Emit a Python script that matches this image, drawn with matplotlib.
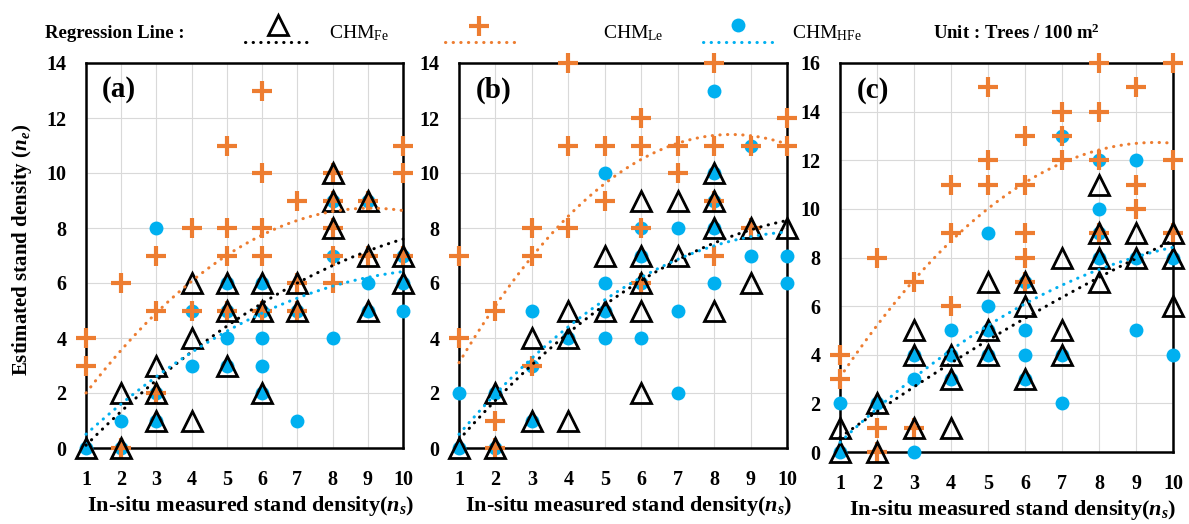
import matplotlib.pyplot as plt
import numpy as np

plt.rcParams['font.family'] = 'Liberation Serif'
plt.rcParams['mathtext.fontset'] = 'custom'
plt.rcParams['mathtext.it'] = 'Liberation Serif:italic:bold'
plt.rcParams['mathtext.rm'] = 'Liberation Serif'
plt.rcParams['mathtext.bf'] = 'Liberation Serif:bold'

ns = list(range(1, 11))

# estimated density at each in-situ value 1..10, per panel and per CHM
a_fe = [[0], [2, 0], [3, 2, 1], [6, 4, 1], [6, 5, 3], [6, 5, 2], [6, 5], [10, 9, 8], [9, 7, 5], [7, 6]]
a_le = [[4, 3], [6, 0], [7, 5, 2], [8, 5], [11, 8, 7, 5], [13, 10, 8, 7, 5], [9, 6, 5], [10, 9, 8, 7, 6], [9, 7], [11, 10, 7]]
a_hfe = [[0], [1, 0], [8, 2, 1], [5, 3], [6, 5, 4, 3], [6, 5, 4, 3, 2], [5, 1], [9, 7, 4], [9, 6, 5], [7, 6, 5]]

b_fe = [[0], [2, 0], [4, 1], [5, 4, 1], [7, 5], [9, 7, 6, 5, 2], [9, 7], [10, 9, 8, 5], [8, 6], [8]]
b_le = [[7, 4], [5, 1, 0], [8, 7, 3], [14, 11, 8], [11, 9], [12, 11, 8, 6], [11, 10], [14, 11, 9, 7], [11, 8], [12, 11]]
b_hfe = [[2, 0], [2, 0], [5, 3, 1], [4], [10, 6, 5, 4], [8, 7, 6, 4], [8, 5, 2], [13, 10, 9, 8, 6], [11, 7], [7, 6]]

c_fe = [[1, 0], [2, 0], [5, 4, 1], [4, 3, 1], [7, 5, 4], [7, 6, 3], [8, 5, 4], [11, 9, 8, 7], [9, 8], [9, 8, 6]]
c_le = [[4, 3], [8, 1, 0], [7, 1], [11, 9, 6], [15, 12, 11], [13, 11, 9, 8, 7], [14, 13, 12], [16, 14, 12, 9], [15, 11, 10], [16, 12, 9]]
c_hfe = [[2, 0], [2], [4, 3, 0], [5, 4, 3], [9, 6, 5, 4], [7, 5, 4, 3], [13, 4, 2], [12, 10, 9, 8], [12, 8, 5], [8, 4]]

# quadratic trend lines (c2, c1, c0)
a_fit = {'fe': [-0.050, 1.383, -1.233], 'le': [-0.103, 1.870, 0.233], 'hfe': [-0.056, 1.273, -0.717]}
b_fit = {'fe': [-0.068, 1.634, -1.267], 'le': [-0.149, 2.522, 0.728], 'hfe': [-0.081, 1.708, -1.128]}
c_fit = {'fe': [-0.020, 1.120, -0.500], 'le': [-0.133, 2.533, 0.671], 'hfe': [-0.062, 1.573, -1.111]}

panel_names = ['(a)', '(b)', '(c)']
y_tops = [14, 14, 16]

BLUE = '#00B0F0'
ORANGE = '#ED7D31'
DOT = (0, (0.1, 2.4))


def flat(cols):
    xs = [x for x, c in zip(ns, cols) for _ in c]
    ys = [y for c in cols for y in c]
    return xs, ys


W, H = 1189, 524
fig = plt.figure(figsize=(W / 100, H / 100), dpi=100)

# overlay in pixel coordinates for legend header and labels
ov = fig.add_axes([0, 0, 1, 1])
ov.set_xlim(0, W)
ov.set_ylim(H, 0)
ov.axis('off')

boxes = [(86, 403, 63, 448), (459, 787, 63, 448), (840, 1173, 63, 452)]
data = [(a_fe, a_le, a_hfe, a_fit), (b_fe, b_le, b_hfe, b_fit), (c_fe, c_le, c_hfe, c_fit)]

xx = np.linspace(1, 10, 200)
for i, ((l, r, t, b), (fe, le, hfe, fit)) in enumerate(zip(boxes, data)):
    ax = fig.add_axes([l / W, 1 - b / H, (r - l) / W, (b - t) / H])
    ax.set_xlim(1, 10)
    ax.set_ylim(0, y_tops[i])
    ax.set_xticks(ns)
    ax.set_yticks(range(0, y_tops[i] + 1, 2))
    ax.grid(True, color='#d9d9d9', lw=0.8)
    ax.set_axisbelow(True)
    for s in ax.spines.values():
        s.set_linewidth(1.8)
    ax.tick_params(length=0, labelsize=14.5)
    ax.tick_params(axis='y', pad=14)
    ax.tick_params(axis='x', pad=16)
    for lab in ax.get_xticklabels() + ax.get_yticklabels():
        lab.set_fontweight('bold')

    x, y = flat(hfe)
    ax.plot(x, y, 'o', color=BLUE, ms=10, mew=0, clip_on=False, zorder=3)
    x, y = flat(le)
    ax.plot(x, y, '+', color=ORANGE, ms=14, mew=3, clip_on=False, zorder=4)
    x, y = flat(fe)
    ax.plot(x, y, '^', mfc='none', mec='black', ms=14.5, mew=2, clip_on=False, zorder=5)

    ax.plot(xx, np.polyval(fit['le'], xx), color=ORANGE, ls=DOT, lw=2.2,
            dash_capstyle='round', zorder=6, clip_on=False)
    ax.plot(xx, np.polyval(fit['fe'], xx), color='black', ls=DOT, lw=2.2,
            dash_capstyle='round', zorder=6, clip_on=False)
    ax.plot(xx, np.polyval(fit['hfe'], xx), color=BLUE, ls=DOT, lw=2.2,
            dash_capstyle='round', zorder=6, clip_on=False)

    ax.text(0.05, 0.93, panel_names[i], transform=ax.transAxes, fontsize=21,
            fontweight='bold', va='center', ha='left')
    ov.text((l + r) / 2 + 6, 506 + (b - 448), r'In-situ measured stand density($n_s$)',
            fontsize=16, fontweight='bold', ha='center', va='center')

ov.text(22, 250, r'Estimated stand density ($n_e$)', rotation=90, fontsize=15,
        fontweight='bold', ha='center', va='center')

# legend header
ov.text(45, 33, 'Regression Line :', fontsize=13.5, fontweight='bold', va='center')
ov.plot([245, 312], [42, 42], color='black', ls=DOT, lw=2.2, dash_capstyle='round')
ov.plot([278], [25], '^', mfc='none', mec='black', ms=14.5, mew=2)
ov.text(329, 33, r'CHM$_{\mathregular{Fe}}$', fontsize=14, va='center')
ov.plot([445, 515], [42, 42], color=ORANGE, ls=DOT, lw=2.2, dash_capstyle='round')
ov.plot([479], [26], '+', color=ORANGE, ms=14, mew=3)
ov.text(603, 33, r'CHM$_{\mathregular{Le}}$', fontsize=14, va='center')
ov.plot([703, 772], [42, 42], color=BLUE, ls=DOT, lw=2.2, dash_capstyle='round')
ov.plot([738], [25], 'o', color=BLUE, ms=10, mew=0)
ov.text(792, 33, r'CHM$_{\mathregular{HFe}}$', fontsize=14, va='center')
ov.text(933, 33, r'Unit : Trees / 100 m$^{\mathregular{2}}$', fontsize=13.5,
        fontweight='bold', va='center')

fig.savefig('out.png', dpi=100)
